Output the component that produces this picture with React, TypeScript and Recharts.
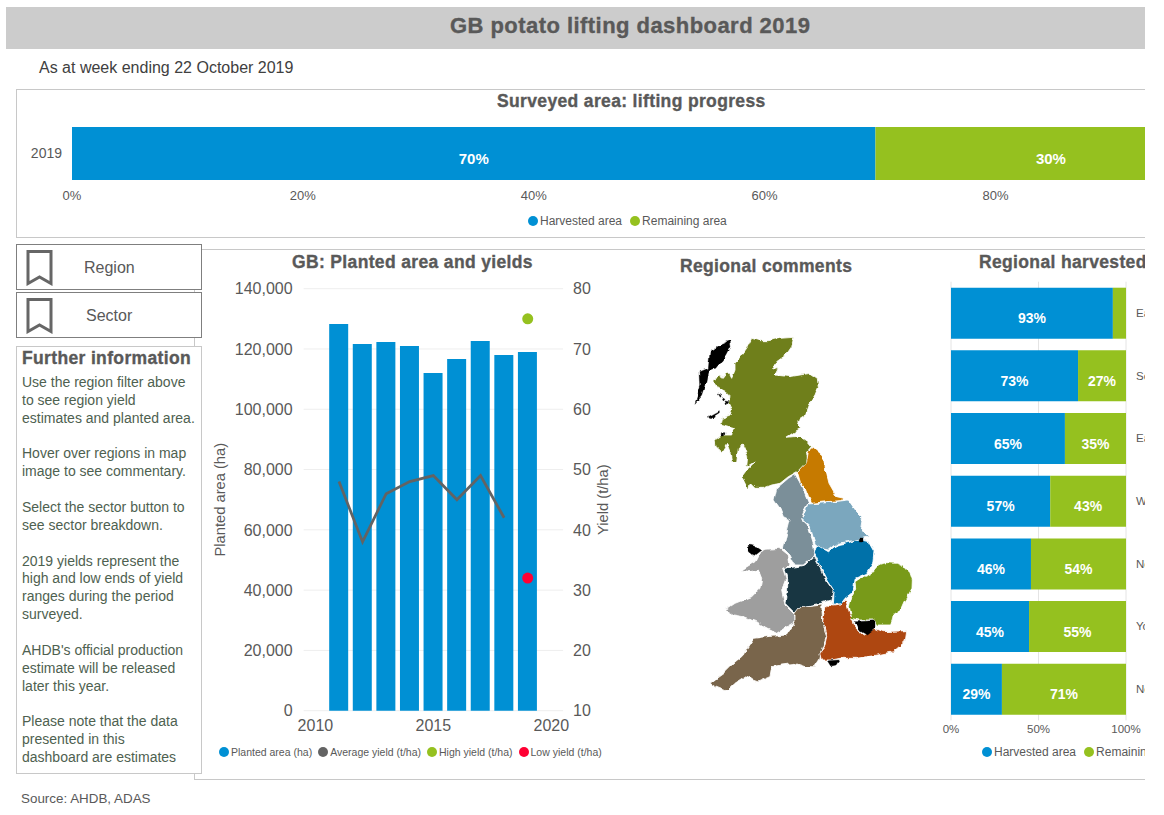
import React from "react";
import {
  BarChart, ComposedChart, Bar, Line, XAxis, YAxis, CartesianGrid, Legend, LabelList,
} from "recharts";

const FONT = '"Liberation Sans", Arial, sans-serif';
const BLUE = "#0090D4";
const GREEN = "#95C11F";
const RED = "#FF0033";
const GREY = "#595959";
const LINE_GREY = "#636363";

// Lifting progress
const progressYears = ["2019"];
const progressHarvested = [69.6];
const progressRemaining = [30.4];
const progressTicks = [0, 20, 40, 60, 80, 100];

// Planted area and yields
const years = [2010, 2011, 2012, 2013, 2014, 2015, 2016, 2017, 2018, 2019, 2020];
const plantedArea = [null, 128300, 121650, 122300, 121000, 112000, 116700, 122650, 118000, 119000, null];
const averageYield = [null, 48, 38, 46, 48, 49, 45, 49, 42, null, null];
const highYield = [null, null, null, null, null, null, null, null, null, 75, null];
const lowYield = [null, null, null, null, null, null, null, null, null, 32, null];
const areaTicks = [0, 20000, 40000, 60000, 80000, 100000, 120000, 140000];
const yieldTicks = [10, 20, 30, 40, 50, 60, 70, 80];

// Regional harvested
const regions = ["East Anglia", "South West", "East Midlands", "West Midlands", "North West", "Yorkshire", "North East"];
const regionHarvested = [92.5, 72.6, 65.1, 56.7, 45.7, 44.6, 29.1];
const regionRemaining = [7.5, 27.4, 34.9, 43.3, 54.3, 55.4, 70.9];
const regionTicks = [0, 50, 100];

// Text
const infoLines = [
  "Use the region filter above", "to see region yield", "estimates and planted area.", "",
  "Hover over regions in map", "image to see commentary.", "",
  "Select the sector button to", "see sector breakdown.", "",
  "2019 yields represent the", "high and low ends of yield", "ranges during the period", "surveyed.", "",
  "AHDB's official production", "estimate will be released", "later this year.", "",
  "Please note that the data", "presented in this", "dashboard are estimates",
];

const progressData = progressYears.map((year, i) => ({ year, harvested: progressHarvested[i], remaining: progressRemaining[i] }));
const yearData = years.map((year, i) => ({ year, planted: plantedArea[i], avg: averageYield[i], high: highYield[i], low: lowYield[i] }));
const regionData = regions.map((region, i) => ({ region, harvested: regionHarvested[i], remaining: regionRemaining[i] }));

// Decorative map outlines (viewBox 750 x 1140)
const mapShapes: { fill: string; pts: string }[] = [
  { fill: "#6F7F1B", pts: "215,55 240,62 265,62 300,55 340,52 335,80 318,105 290,125 278,150 295,145 285,165 330,170 390,160 412,175 415,200 405,225 385,255 372,290 350,305 362,325 345,335 320,352 360,348 385,365 397,380 380,400 385,430 352,455 325,470 300,490 275,495 250,505 225,505 210,490 205,510 195,490 185,470 200,450 225,425 200,440 203,410 190,375 175,385 170,425 155,425 150,395 140,370 125,395 108,380 105,360 125,345 155,345 160,325 120,315 125,295 150,285 155,270 145,250 150,230 135,215 115,205 102,185 115,165 130,175 145,155 155,175 165,150 165,130 185,105 200,85" },
  { fill: "#C67A00", pts: "400,382 430,408 437,450 447,490 470,530 492,535 482,542 440,545 395,550 385,530 375,505 362,490 352,455 380,425 385,395" },
  { fill: "#7B8F99", pts: "345,462 358,485 365,500 385,548 370,575 362,598 385,620 400,670 405,705 370,735 345,735 330,705 310,685 320,640 330,600 310,590 300,565 282,540 290,505 325,475" },
  { fill: "#7BA7BE", pts: "385,552 440,548 505,540 530,575 545,590 540,620 565,650 530,660 505,665 470,670 445,690 420,685 405,670 390,620 362,595 375,575" },
  { fill: "#0071A9", pts: "410,675 445,695 470,675 505,668 535,658 565,665 582,695 578,730 560,760 525,775 520,815 495,835 480,855 460,855 462,815 440,780 425,750 415,725 403,700" },
  { fill: "#183642", pts: "403,708 415,730 430,770 462,815 455,840 420,850 370,860 345,880 315,850 320,810 320,770 310,745 350,740 375,735" },
  { fill: "#9E9E9E", pts: "255,688 300,685 325,705 330,735 308,745 318,775 305,810 315,855 345,885 345,905 320,920 290,940 260,925 230,905 190,890 160,885 135,870 165,850 215,830 240,805 245,775 235,750 210,755 185,750 225,725 240,695" },
  { fill: "#79654B", pts: "360,860 425,852 428,905 440,950 425,990 418,1020 405,1040 375,1040 345,1030 305,1035 275,1040 270,1070 235,1085 195,1070 165,1090 150,1105 135,1112 105,1100 90,1090 105,1078 130,1060 155,1035 190,1005 200,985 220,955 260,950 320,945 345,905 345,880" },
  { fill: "#AE4711", pts: "435,855 460,858 480,855 497,838 508,880 520,900 525,925 550,945 585,925 610,935 680,932 675,965 640,995 590,1005 530,1015 480,1015 455,1020 425,1020 420,1000 432,985 440,950 428,905" },
  { fill: "#789A19", pts: "600,732 620,728 650,730 675,742 690,758 697,780 696,805 685,825 672,845 662,868 640,882 637,900 632,915 590,915 583,900 540,900 515,895 508,860 515,830 527,810 525,785 545,772 572,760 590,748" },
];
const mapBlack = [
  "150,62 153,80 140,105 125,125 110,145 85,150 78,185 65,225 45,250 62,195 60,155 85,145 90,95 120,75",
  "112,222 122,226 118,232", "125,232 135,238 130,243", "135,243 147,245 140,255",
  "85,290 118,272 118,278 90,296", "127,338 135,338 133,348 126,348",
  "205,675 225,678 243,690 220,708 205,695",
  "525,905 585,902 585,925 560,945 535,930",
  "445,1022 478,1020 468,1035 455,1038",
  "538,654 546,654 546,666 538,666",
];

const titleStyle: React.CSSProperties = {
  position: "absolute", fontFamily: FONT, fontWeight: 700, color: GREY, whiteSpace: "nowrap",
  WebkitTextStroke: "0.35px #595959",
};
const subTitle = { fontSize: 17.5, letterSpacing: 0.35 };

function makeLegend(fontSize: number, gap: number, dot: number, dotGap: number) {
  return (props: any) => (
    <div style={{ display: "flex", gap, alignItems: "center", fontFamily: FONT, fontSize, color: GREY, whiteSpace: "nowrap" }}>
      {(props.payload || []).map((e: any) => (
        <span key={e.value} style={{ display: "inline-flex", alignItems: "center", gap: dotGap }}>
          <span style={{ width: dot, height: dot, borderRadius: "50%", background: e.color, display: "inline-block" }} />
          {e.value}
        </span>
      ))}
    </div>
  );
}

const pct = (v: any) => (v == null ? "" : `${Math.round(Number(v))}%`);
const pctHideSmall = (v: any) => (Number(v) < 10 ? "" : pct(v));
const barLabel = { fill: "#FFFFFF", fontFamily: FONT, fontWeight: 700 };

function Bookmark({ top, label, textLeft }: { top: number; label: string; textLeft: number }) {
  return (
    <div style={{ position: "absolute", left: 16, top, width: 186, height: 46, boxSizing: "border-box", border: "1px solid #7F7F7F", background: "#fff" }}>
      <svg style={{ position: "absolute", left: 9, top: 5 }} width="28" height="36">
        <path d="M2 1.5 H25 V33.5 L13.5 27 L2 33.5 Z" fill="none" stroke="#666" strokeWidth="3" />
      </svg>
      <div style={{ position: "absolute", left: textLeft, top: 14, fontFamily: FONT, fontSize: 16, color: GREY }}>{label}</div>
    </div>
  );
}

export default function App() {
  return (
    <div style={{ position: "absolute", left: 0, top: 0, width: 1145, height: 815, overflow: "hidden", background: "#fff", fontFamily: FONT }}>
      {/* Header */}
      <div style={{ position: "absolute", left: 6, top: 7, width: 1139, height: 42, background: "#CCCCCC" }} />
      <div style={{ ...titleStyle, left: 450, top: 13, fontSize: 22, letterSpacing: 0.45 }}>GB potato lifting dashboard 2019</div>
      <div style={{ position: "absolute", left: 39, top: 59, fontSize: 16, color: "#404040", whiteSpace: "nowrap" }}>As at week ending 22 October 2019</div>

      {/* Lifting progress panel */}
      <div style={{ position: "absolute", left: 16, top: 89, width: 1300, height: 149, border: "1px solid #C8C8C8", boxSizing: "border-box" }} />
      <div style={{ ...titleStyle, ...subTitle, left: 497, top: 91 }}>Surveyed area: lifting progress</div>
      <div style={{ position: "absolute", left: 16, top: 89 }}>
        <BarChart width={1300} height={149} data={progressData} layout="vertical" barSize={53}
          margin={{ top: 26, right: 89.6, bottom: 0, left: 0 }}>
          <XAxis type="number" domain={[0, 100]} ticks={progressTicks} tickFormatter={(v) => `${v}%`} height={46}
            axisLine={false} tickLine={false} tick={{ fontSize: 13, fill: GREY, fontFamily: FONT, dy: -9 }} />
          <YAxis type="category" dataKey="year" width={56} axisLine={false} tickLine={false}
            tick={{ fontSize: 14, fill: GREY, fontFamily: FONT, dx: -2 }} />
          <Bar dataKey="harvested" name="Harvested area" stackId="a" fill={BLUE} isAnimationActive={false}>
            <LabelList dataKey="harvested" position="center" dy={5} formatter={pct} style={{ ...barLabel, fontSize: 15 }} />
          </Bar>
          <Bar dataKey="remaining" name="Remaining area" stackId="a" fill={GREEN} isAnimationActive={false}>
            <LabelList dataKey="remaining" position="center" dy={5} formatter={pct} style={{ ...barLabel, fontSize: 15 }} />
          </Bar>
          <Legend itemSorter={null} verticalAlign="middle" layout="horizontal" align="center"
            content={makeLegend(12, 8, 10, 2)}
            wrapperStyle={{ left: 512, top: 125, width: 300, height: 14 }} />
        </BarChart>
      </div>

      {/* Main panel frame */}
      <div style={{ position: "absolute", left: 194, top: 249, width: 1100, height: 531, border: "1px solid #C8C8C8", boxSizing: "border-box" }} />

      {/* Left column */}
      <Bookmark top={244} label="Region" textLeft={67} />
      <Bookmark top={292} label="Sector" textLeft={69} />
      <div style={{ position: "absolute", left: 16, top: 346, width: 186, height: 428, border: "1px solid #C8C8C8", boxSizing: "border-box", background: "#fff" }}>
        <div style={{ ...titleStyle, left: 5, top: 1, fontSize: 17.5, letterSpacing: 0.35 }}>Further information</div>
        <div style={{ position: "absolute", left: 5, top: 27, fontSize: 14, lineHeight: "17.86px", color: "#4E6150", whiteSpace: "nowrap" }}>
          {infoLines.map((l, i) => <div key={i} style={{ height: 17.86 }}>{l}</div>)}
        </div>
      </div>

      {/* Planted area and yields */}
      <div style={{ ...titleStyle, ...subTitle, left: 292, top: 252 }}>GB: Planted area and yields</div>
      <div style={{ position: "absolute", left: 206, top: 270 }}>
        <ComposedChart width={415} height={490} data={yearData} barSize={19}
          margin={{ top: 18.7, right: 0, bottom: 0, left: 0 }}>
          <CartesianGrid yAxisId="left" vertical={false} stroke="#EEEEEE" />
          <XAxis dataKey="year" interval={4} height={49.3} axisLine={false} tickLine={false}
            tick={{ fontSize: 16, fill: GREY, fontFamily: FONT, dy: 1 }} />
          <YAxis yAxisId="left" domain={[0, 140000]} ticks={areaTicks} width={97.6}
            tickFormatter={(v) => Number(v).toLocaleString("en-GB")} axisLine={false} tickLine={false}
            tick={{ fontSize: 16, fill: GREY, fontFamily: FONT, dx: -3 }}
            label={{ value: "Planted area (ha)", angle: -90, position: "center", dx: -35, style: { fontSize: 14.7, fill: GREY, fontFamily: FONT } }} />
          <YAxis yAxisId="right" orientation="right" domain={[10, 80]} ticks={yieldTicks} width={57.9} axisLine={false} tickLine={false}
            tick={{ fontSize: 16, fill: GREY, fontFamily: FONT, dx: 2 }}
            label={{ value: "Yield (t/ha)", angle: -90, position: "center", dx: 11, style: { fontSize: 14.7, fill: GREY, fontFamily: FONT } }} />
          <Bar yAxisId="left" dataKey="planted" name="Planted area (ha)" fill={BLUE} isAnimationActive={false} />
          <Line yAxisId="right" dataKey="avg" name="Average yield (t/ha)" stroke={LINE_GREY} strokeWidth={2.75} dot={false} isAnimationActive={false} />
          <Line yAxisId="right" dataKey="high" name="High yield (t/ha)" stroke={GREEN} strokeWidth={0} dot={{ r: 5.5, fill: GREEN, stroke: GREEN, strokeWidth: 0 }} isAnimationActive={false} />
          <Line yAxisId="right" dataKey="low" name="Low yield (t/ha)" stroke={RED} strokeWidth={0} dot={{ r: 5.5, fill: RED, stroke: RED, strokeWidth: 0 }} isAnimationActive={false} />
          <Legend itemSorter={null} verticalAlign="middle" layout="horizontal" align="center"
            content={makeLegend(10.5, 6, 10, 2)}
            wrapperStyle={{ left: 13, top: 476, width: 400, height: 13 }} />
        </ComposedChart>
      </div>

      {/* Regional comments */}
      <div style={{ ...titleStyle, ...subTitle, left: 680, top: 256 }}>Regional comments</div>
      <svg style={{ position: "absolute", left: 680, top: 320 }} width={250} height={380} viewBox="0 0 750 1140">
        <defs>
          <filter id="rough" x="-5%" y="-5%" width="110%" height="110%" colorInterpolationFilters="sRGB">
            <feTurbulence type="fractalNoise" baseFrequency="0.045" numOctaves="2" seed="4" result="n" />
            <feDisplacementMap in="SourceGraphic" in2="n" scale="14" xChannelSelector="R" yChannelSelector="G" />
          </filter>
        </defs>
        <g filter="url(#rough)">
          {mapShapes.map((s, i) => (
            <polygon key={i} points={s.pts} fill={s.fill} stroke="#fff" strokeWidth={2.5} strokeLinejoin="round" />
          ))}
          {mapBlack.map((p, i) => <polygon key={i} points={p} fill="#000" stroke="#000" strokeWidth={1} />)}
        </g>
      </svg>

      {/* Regional harvested */}
      <div style={{ ...titleStyle, ...subTitle, left: 979, top: 252 }}>Regional harvested area</div>
      <div style={{ position: "absolute", left: 940, top: 270 }}>
        <BarChart width={400} height={500} data={regionData} layout="vertical" barSize={51}
          margin={{ top: 11.7, right: 0, bottom: 0, left: 11 }}>
          <CartesianGrid horizontal={false} stroke="#E4E4E4" />
          <XAxis type="number" domain={[0, 100]} ticks={regionTicks} tickFormatter={(v) => `${v}%`} height={49.6}
            axisLine={false} tickLine={false} tick={{ fontSize: 11.5, fill: GREY, fontFamily: FONT, dy: -4 }} />
          <YAxis type="category" dataKey="region" orientation="right" width={214} axisLine={false} tickLine={false}
            tick={{ fontSize: 11.5, fill: GREY, fontFamily: FONT, dx: 2 }} />
          <Bar dataKey="harvested" name="Harvested area" stackId="a" fill={BLUE} isAnimationActive={false}>
            <LabelList dataKey="harvested" position="center" dy={5} formatter={pct} style={{ ...barLabel, fontSize: 14 }} />
          </Bar>
          <Bar dataKey="remaining" name="Remaining area" stackId="a" fill={GREEN} isAnimationActive={false}>
            <LabelList dataKey="remaining" position="center" dy={5} formatter={pctHideSmall} style={{ ...barLabel, fontSize: 14 }} />
          </Bar>
          <Legend itemSorter={null} verticalAlign="middle" layout="horizontal" align="center"
            content={makeLegend(12, 8, 10, 2)}
            wrapperStyle={{ left: 42, top: 475, width: 300, height: 14 }} />
        </BarChart>
      </div>

      <div style={{ position: "absolute", left: 21, top: 791, fontSize: 13.4, color: GREY, whiteSpace: "nowrap" }}>Source: AHDB, ADAS</div>
    </div>
  );
}
